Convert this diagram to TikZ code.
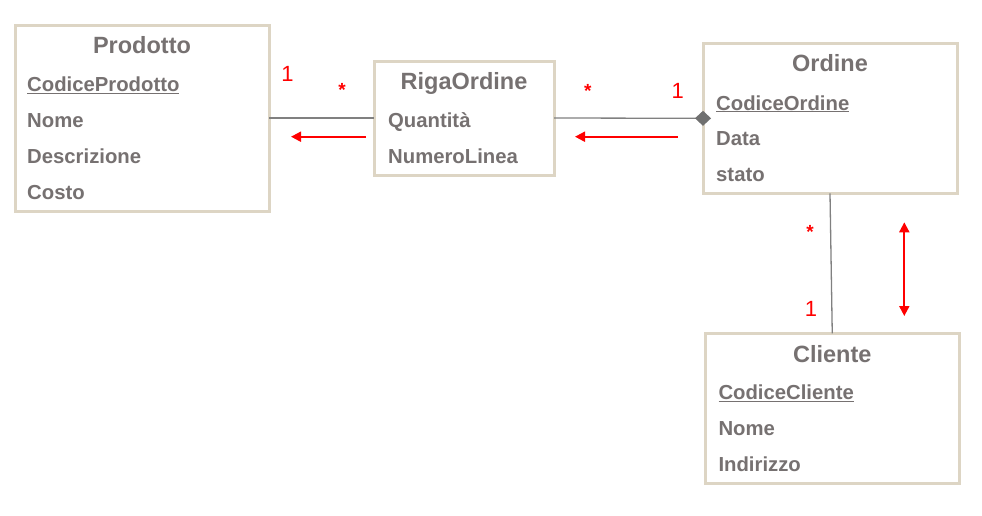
\documentclass[tikz,border=0pt]{standalone}
\usepackage{fontspec}
\setmainfont{Liberation Sans}
\usetikzlibrary{arrows.meta}
\definecolor{boxborder}{HTML}{DDD5C4}
\definecolor{txtgray}{HTML}{767171}
\definecolor{linegray}{HTML}{808080}
\definecolor{diagray}{HTML}{707070}
\definecolor{redmark}{HTML}{FF0000}
\tikzset{
  umlbox/.style={draw=boxborder, line width=3pt, fill=white, rectangle, inner sep=0pt, outer sep=0pt, anchor=north west},
  titletxt/.style={text=txtgray, font=\fontsize{23.5}{26}\selectfont\bfseries, inner sep=0pt, anchor=base},
  attrtxt/.style={text=txtgray, font=\fontsize{20.3}{23}\selectfont\bfseries, inner sep=0pt, anchor=base west},
  assoc/.style={draw=linegray, line width=1.3pt},
  mult/.style={text=redmark, font=\fontsize{22}{24}\selectfont, inner sep=0pt, anchor=base},
  multstar/.style={text=redmark, font=\fontsize{19}{20}\selectfont\bfseries, inner sep=0pt, anchor=base},
  navarrow/.style={draw=redmark, line width=2pt, -{Triangle[length=10pt,width=10pt]}},
  navboth/.style={draw=redmark, line width=2pt, {Triangle[length=10pt,width=10pt]}-{Triangle[length=10pt,width=10pt]}}
}
\begin{document}
\begin{tikzpicture}[x=1pt,y=-1pt]
\useasboundingbox (0,0) rectangle (982,515);
% boxes
\node[umlbox, minimum width=254pt, minimum height=186pt] (prod) at (15,25) {};
\node[umlbox, minimum width=180pt, minimum height=114pt] (riga) at (374,61) {};
\node[umlbox, minimum width=254pt, minimum height=150pt] (ord) at (703,43.3) {};
\node[umlbox, minimum width=254.5pt, minimum height=150pt] (cli) at (705,333.3) {};
% Prodotto
\node[titletxt] (prodT) at (142,53.4) {Prodotto};
\node[attrtxt] (prodA1) at (27,91.7) {\underline{CodiceProdotto}};
\node[attrtxt] (prodA2) at (27,127.7) {Nome};
\node[attrtxt] (prodA3) at (27,163.7) {Descrizione};
\node[attrtxt] (prodA4) at (27,199.7) {Costo};
% RigaOrdine
\node[titletxt] (rigaT) at (464,89.4) {RigaOrdine};
\node[attrtxt] (rigaA1) at (388,127.7) {Quantità};
\node[attrtxt] (rigaA2) at (388,163.7) {NumeroLinea};
% Ordine
\node[titletxt] (ordT) at (830,71.7) {Ordine};
\node[attrtxt] (ordA1) at (716,110) {\underline{CodiceOrdine}};
\node[attrtxt] (ordA2) at (716,145.7) {Data};
\node[attrtxt] (ordA3) at (716,181.7) {stato};
% Cliente
\node[titletxt] (cliT) at (832.3,362.3) {Cliente};
\node[attrtxt] (cliA1) at (718.3,399.3) {\underline{CodiceCliente}};
\node[attrtxt] (cliA2) at (718.3,435.3) {Nome};
\node[attrtxt] (cliA3) at (718.3,471.7) {Indirizzo};
% associations
\draw[assoc] (prod.east) -- (riga.west);
\draw[assoc, -{Diamond[length=16pt,width=15pt,fill=diagray,color=diagray]}, shorten >=-8pt] (riga.east) -- (ord.west);
\draw[assoc] (ord.south) -- (cli.north);
% multiplicities
\node[mult] (m1) at (287.5,81) {1};
\node[multstar] (m2) at (342,96.5) {*};
\node[multstar] (m3) at (587.7,97.2) {*};
\node[mult] (m4) at (677.7,98.3) {1};
\node[multstar] (m5) at (810,238.2) {*};
\node[mult] (m6) at (811,316) {1};
% navigation arrows
\coordinate (n1s) at (366,136.7);
\coordinate (n1e) at (291,136.7);
\coordinate (n2s) at (677.7,136.7);
\coordinate (n2e) at (575,136.7);
\coordinate (n3s) at (904.3,222.3);
\coordinate (n3e) at (904.3,316);
\draw[navarrow] (n1s) -- (n1e);
\draw[navarrow] (n2s) -- (n2e);
\draw[navboth] (n3s) -- (n3e);
\end{tikzpicture}
\end{document}
